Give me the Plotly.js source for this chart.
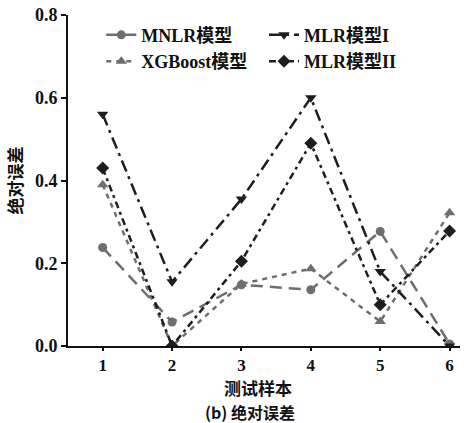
<!DOCTYPE html>
<html><head><meta charset="utf-8">
<script src="https://cdn.plot.ly/plotly-3.0.1.min.js"></script>
<style>body{margin:0;padding:0;background:#fff}</style>
</head><body>
<div id="chart" style="width:467px;height:423px"></div>
<script>
const samples = [1, 2, 3, 4, 5, 6];
const mnlr = [0.238, 0.058, 0.148, 0.136, 0.277, 0.005];
const xgboost = [0.39, 0.0, 0.15, 0.187, 0.059, 0.322];
const mlr1 = [0.56, 0.155, 0.355, 0.60, 0.18, 0.0];
const mlr2 = [0.43, 0.0, 0.205, 0.49, 0.10, 0.278];
const yTicks = [0.0, 0.2, 0.4, 0.6, 0.8];
const yTickText = ['0.0', '0.2', '0.4', '0.6', '0.8'];

const F = 'Liberation Serif, "Times New Roman", "Noto Sans CJK SC", serif';
const CJK = '"Noto Sans CJK SC", sans-serif';
const gray = '#6e6e6e', dark = '#1e1e1e';

const traces = [
  {x: samples, y: mnlr, name: '<b>MNLR模型</b>', mode: 'lines+markers', legend: 'legend',
   line: {color: gray, width: 2.5, dash: '12px,7px'}, marker: {symbol: 'circle', size: 9, color: gray}},
  {x: samples, y: xgboost, name: '<b>XGBoost模型</b>', mode: 'lines+markers', legend: 'legend',
   line: {color: gray, width: 2.5, dash: '5px,5px'}, marker: {symbol: 'triangle-up', size: 10, color: gray}},
  {x: samples, y: mlr1, name: '<b>MLR模型I</b>', mode: 'lines+markers', legend: 'legend2',
   line: {color: dark, width: 2.5, dash: '12px,5px,3px,5px'}, marker: {symbol: 'triangle-down', size: 10, color: dark}},
  {x: samples, y: mlr2, name: '<b>MLR模型II</b>', mode: 'lines+markers', legend: 'legend2',
   line: {color: dark, width: 2.5, dash: '7px,4px,3px,4px'}, marker: {symbol: 'diamond', size: 10, color: dark}}
];

const legendCommon = {orientation: 'v', bgcolor: 'rgba(0,0,0,0)', tracegroupgap: 0,
  font: {family: F, size: 18, color: '#111'}, xanchor: 'left', yanchor: 'top', itemwidth: 30};

const layout = {
  width: 467, height: 423,
  margin: {l: 68, r: 7, t: 15, b: 77},
  paper_bgcolor: '#fff', plot_bgcolor: '#fff',
  font: {family: F, color: '#111'},
  showlegend: true,
  legend: Object.assign({}, legendCommon, {x: 0.085, y: 0.995}),
  legend2: Object.assign({}, legendCommon, {x: 0.5, y: 0.995}),
  xaxis: {
    range: [0.5, 6.15], tickvals: samples, ticktext: samples.map(s => '<b>' + s + '</b>'),
    showline: true, linecolor: '#111', linewidth: 2, ticks: 'outside', ticklen: 3, tickwidth: 2, tickcolor: '#111',
    showgrid: false, zeroline: false, tickfont: {family: F, size: 17, color: '#111'}
  },
  yaxis: {
    range: [0, 0.8], tickvals: yTicks, ticktext: yTickText.map(t => '<b>' + t + '</b>'),
    showline: true, linecolor: '#111', linewidth: 2, ticks: 'outside', ticklen: 5, tickwidth: 2, tickcolor: '#111',
    showgrid: false, zeroline: false, tickfont: {family: F, size: 18, color: '#111'},
    title: {text: '<b>绝对误差</b>', font: {family: CJK, size: 17, color: '#111'}, standoff: 8}
  },
  annotations: [
    {text: '<b>测试样本</b>', xref: 'paper', yref: 'paper', x: 0.485, y: -0.124,
     xanchor: 'center', yanchor: 'middle', showarrow: false,
     font: {family: CJK, size: 17, color: '#111'}},
    {text: '<b>(b) 绝对误差</b>', xref: 'paper', yref: 'paper', x: 0.465, y: -0.199,
     xanchor: 'center', yanchor: 'middle', showarrow: false,
     font: {family: CJK, size: 16, color: '#111'}}
  ]
};

Plotly.newPlot('chart', traces, layout, {displayModeBar: false, staticPlot: true});
</script>
</body></html>
